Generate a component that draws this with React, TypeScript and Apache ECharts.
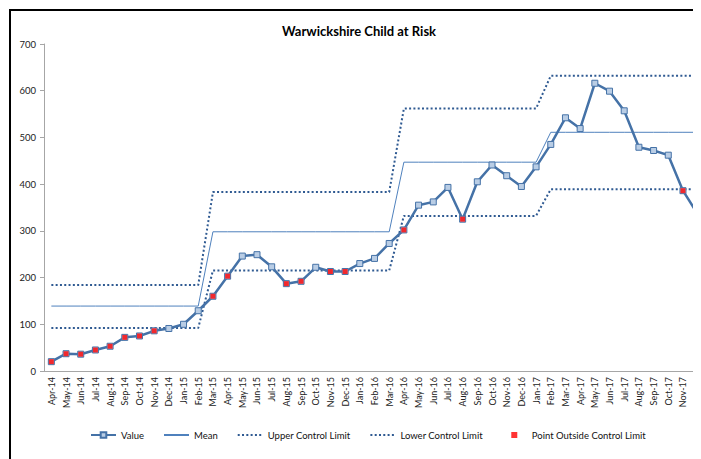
import React, { useEffect, useRef } from "react";
import * as echarts from "echarts";

const months = [
  "Apr-14", "May-14", "Jun-14", "Jul-14", "Aug-14", "Sep-14", "Oct-14", "Nov-14", "Dec-14",
  "Jan-15", "Feb-15", "Mar-15", "Apr-15", "May-15", "Jun-15", "Jul-15", "Aug-15", "Sep-15", "Oct-15", "Nov-15", "Dec-15",
  "Jan-16", "Feb-16", "Mar-16", "Apr-16", "May-16", "Jun-16", "Jul-16", "Aug-16", "Sep-16", "Oct-16", "Nov-16", "Dec-16",
  "Jan-17", "Feb-17", "Mar-17", "Apr-17", "May-17", "Jun-17", "Jul-17", "Aug-17", "Sep-17", "Oct-17", "Nov-17", "Dec-17",
];

const values = [
  20, 37, 36, 45, 53, 72, 75, 86, 91,
  100, 129, 160, 203, 246, 249, 223, 187, 192, 222, 213, 213,
  230, 241, 273, 302, 355, 362, 393, 325, 405, 441, 418, 395,
  437, 485, 542, 519, 616, 599, 557, 479, 472, 462, 386, 336,
];

const mean = [
  139, 139, 139, 139, 139, 139, 139, 139, 139,
  139, 139, 298, 298, 298, 298, 298, 298, 298, 298, 298, 298,
  298, 298, 298, 447, 447, 447, 447, 447, 447, 447, 447, 447,
  447, 511, 511, 511, 511, 511, 511, 511, 511, 511, 511, 511,
];

const upperLimit = [
  184, 184, 184, 184, 184, 184, 184, 184, 184,
  184, 184, 383, 383, 383, 383, 383, 383, 383, 383, 383, 383,
  383, 383, 383, 562, 562, 562, 562, 562, 562, 562, 562, 562,
  562, 632, 632, 632, 632, 632, 632, 632, 632, 632, 632, 632,
];

const lowerLimit = [
  92, 92, 92, 92, 92, 92, 92, 92, 92,
  92, 92, 215, 215, 215, 215, 215, 215, 215, 215, 215, 215,
  215, 215, 215, 332, 332, 332, 332, 332, 332, 332, 332, 332,
  332, 389, 389, 389, 389, 389, 389, 389, 389, 389, 389, 389,
];

const outsideMonths = [
  "Apr-14", "May-14", "Jun-14", "Jul-14", "Aug-14", "Sep-14", "Oct-14", "Nov-14",
  "Mar-15", "Apr-15", "Aug-15", "Sep-15", "Nov-15", "Dec-15",
  "Apr-16", "Aug-16", "Nov-17", "Dec-17",
];

const FONT = "Lato, 'Noto Sans', sans-serif";

export default function App() {
  const ref = useRef<HTMLDivElement>(null);

  useEffect(() => {
    if (!ref.current) return;
    document.documentElement.style.overflow = "hidden";
    document.body.style.overflow = "hidden";
    const chart = echarts.init(ref.current, undefined, { renderer: "svg" });
    const outsideData = months.map((m, i) => (outsideMonths.includes(m) ? values[i] : "-"));
    const dotted = { type: [2, 2.3] as any, width: 2, color: "#2F5A92", cap: "butt" as any };
    const hiddenSymbol = { opacity: 0 };

    chart.setOption({
      animation: false,
      backgroundColor: "#ffffff",
      textStyle: { fontFamily: FONT },
      title: {
        text: "Warwickshire Child at Risk",
        left: 346,
        textAlign: "center",
        top: 11,
        textStyle: { fontFamily: FONT, fontSize: 13, fontWeight: "bold", color: "#000" },
      },
      graphic: [
        {
          type: "line",
          silent: true,
          shape: { x1: 2, y1: 1, x2: 2, y2: 470 },
          style: { stroke: "#000", lineWidth: 2 },
        },
        {
          type: "line",
          silent: true,
          shape: { x1: 1, y1: 2, x2: 720, y2: 2 },
          style: { stroke: "#000", lineWidth: 2 },
        },
      ],
      legend: {
        left: 82,
        top: 422,
        padding: 0,
        itemWidth: 25,
        itemHeight: 7,
        itemGap: 19,
        textStyle: { fontFamily: FONT, fontSize: 9.5, color: "#111" },
        data: [
          { name: "Value" },
          { name: "Mean", itemStyle: hiddenSymbol },
          { name: "Upper Control Limit", itemStyle: hiddenSymbol },
          { name: "Lower Control Limit", itemStyle: hiddenSymbol },
          { name: "Point Outside Control Limit", icon: "path://M0,0h0.01M25,7h-0.01M9.5,0.5h6v6h-6z" },
        ],
      },
      grid: { left: 36, top: 36, right: 0, bottom: 88, containLabel: false },
      xAxis: {
        type: "category",
        data: months,
        boundaryGap: true,
        axisLine: { lineStyle: { color: "#A6A6A6", width: 1 } },
        axisTick: { show: false },
        axisLabel: { rotate: 90, interval: 0, fontSize: 9, color: "#222", margin: 6, fontFamily: FONT },
      },
      yAxis: {
        type: "value",
        min: 0,
        max: 700,
        interval: 100,
        axisLine: { show: true, lineStyle: { color: "#A6A6A6", width: 1 } },
        axisTick: { show: true, length: 4, lineStyle: { color: "#A6A6A6" } },
        splitLine: { show: false },
        axisLabel: { fontSize: 9.5, color: "#222", margin: 8, fontFamily: FONT },
      },
      series: [
        {
          name: "Value",
          type: "line",
          data: values,
          z: 5,
          symbol: "rect",
          symbolSize: 6,
          lineStyle: { color: "#4572A7", width: 2.5 },
          itemStyle: { color: "#B9CDE5", borderColor: "#4572A7", borderWidth: 1 },
        },
        {
          name: "Mean",
          type: "line",
          data: mean,
          z: 2,
          showSymbol: false,
          symbol: "none",
          lineStyle: { color: "#4F81BD", width: 1 },
          itemStyle: { color: "#4F81BD" },
        },
        {
          name: "Upper Control Limit",
          type: "line",
          data: upperLimit,
          z: 2,
          showSymbol: false,
          symbol: "none",
          lineStyle: dotted,
          itemStyle: { color: "#2F5A92" },
        },
        {
          name: "Lower Control Limit",
          type: "line",
          data: lowerLimit,
          z: 2,
          showSymbol: false,
          symbol: "none",
          lineStyle: dotted,
          itemStyle: { color: "#2F5A92" },
        },
        {
          name: "Point Outside Control Limit",
          type: "scatter",
          data: outsideData,
          z: 10,
          symbol: "rect",
          symbolSize: 5,
          itemStyle: { color: "#FF0000", borderWidth: 0 },
        },
      ],
    });

    return () => chart.dispose();
  }, []);

  return <div ref={ref} style={{ width: 697, height: 451 }} />;
}
